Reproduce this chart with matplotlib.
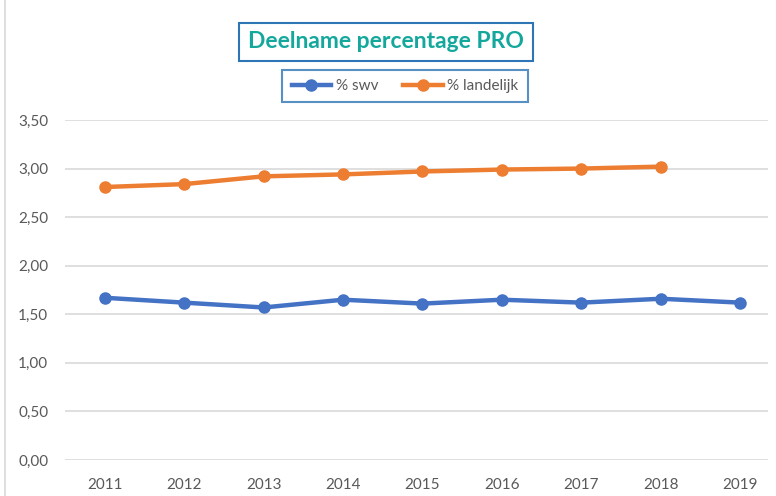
import matplotlib
matplotlib.use("Agg")
import matplotlib.pyplot as plt
from matplotlib.ticker import FuncFormatter
from matplotlib.lines import Line2D

# data
years = ["2011", "2012", "2013", "2014", "2015", "2016", "2017", "2018", "2019"]
swv = [1.67, 1.62, 1.57, 1.65, 1.61, 1.65, 1.62, 1.66, 1.62]
landelijk = [2.81, 2.84, 2.92, 2.94, 2.97, 2.99, 3.00, 3.02]

plt.rcParams['font.family'] = ['Lato', 'DejaVu Sans']

W, H = 776, 496
fig = plt.figure(figsize=(W / 100, H / 100), dpi=100)
ax = fig.add_axes([65 / W, 36 / H, (768 - 65) / W, (460 - 120) / H])

x = list(range(len(years)))
ax.plot(x, swv, color='#4472C4', lw=3.2, marker='o', ms=8, label='% swv')
ax.plot(x[:len(landelijk)], landelijk, color='#ED7D31', lw=3.2, marker='o', ms=8,
        label='% landelijk')

ax.set_xlim(-0.5, 8.35)
ax.set_ylim(0, 3.5)
ax.set_yticks([0, 0.5, 1, 1.5, 2, 2.5, 3, 3.5])
ax.yaxis.set_major_formatter(FuncFormatter(lambda v, p: f"{v:.2f}".replace('.', ',')))
ax.set_xticks(x)
ax.set_xticklabels(years)
ax.grid(axis='y', color='#D9D9D9', lw=1.2)
ax.set_axisbelow(True)
for s in ax.spines.values():
    s.set_visible(False)
ax.tick_params(length=0, labelsize=11, colors='#595959', pad=13)
ax.tick_params(axis='y', pad=12)

# title in a box
fig.text(386 / W, 1 - 42 / H, 'Deelname percentage PRO', ha='center', va='center',
         fontsize=16.5, fontweight='bold', color='#14A89C',
         bbox=dict(boxstyle='square,pad=0.38', fc='white', ec='#2E75B6', lw=1.5))

leg = fig.legend(loc='center', bbox_to_anchor=(405 / W, 1 - 86 / H), ncol=2,
                 fancybox=False, edgecolor='#2E75B6', fontsize=11,
                 handlelength=2.6, handletextpad=0.3, columnspacing=1.6,
                 borderpad=0.6, borderaxespad=0)
leg.get_frame().set_linewidth(1.5)
for t in leg.get_texts():
    t.set_color('#595959')

fig.add_artist(Line2D([5 / W, 5 / W], [0, 1], color='#D9D9D9', lw=1.2,
                      transform=fig.transFigure))

fig.savefig('out.png', dpi=100)
